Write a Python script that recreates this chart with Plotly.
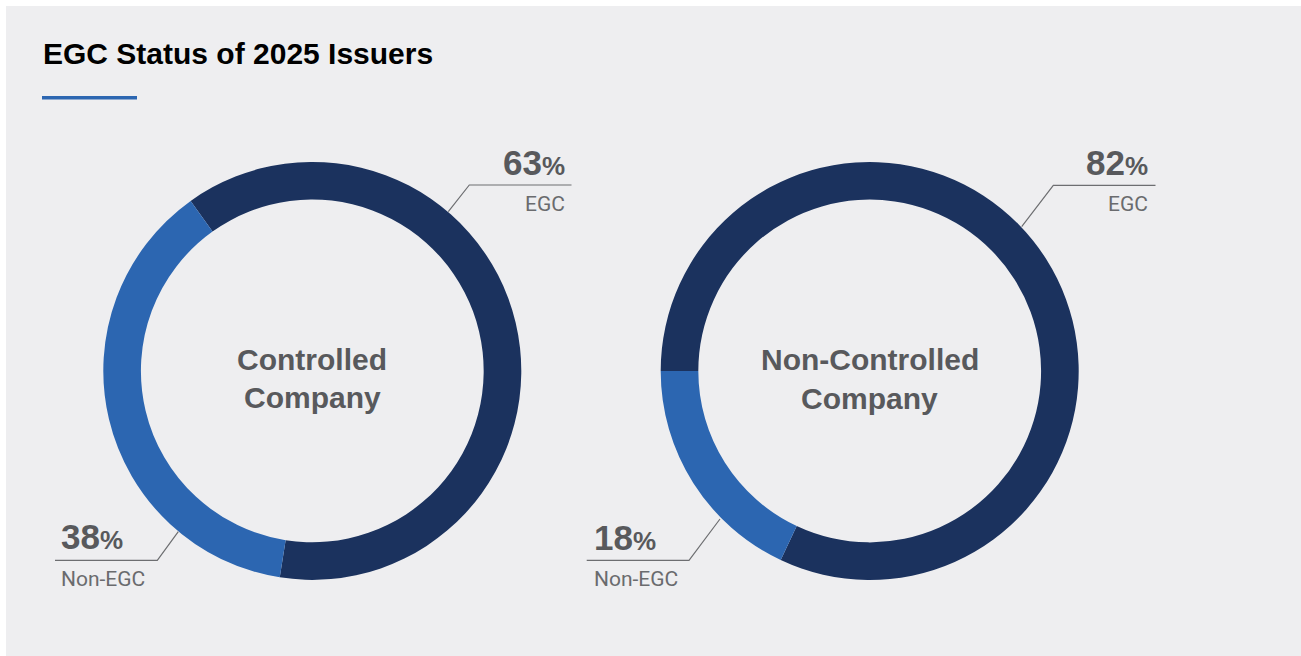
import plotly.graph_objects as go

W, H = 1301, 656

# Chart data
title_text = "EGC Status of 2025 Issuers"
groups = [["Controlled", "Company"], ["Non-Controlled", "Company"]]
status_labels = ["EGC", "Non-EGC"]
controlled = [63, 38]
non_controlled = [82, 18]

NAVY = "#1b325e"
BLUE = "#2c66b1"
PANEL = "#eeeef0"
PCT_GREY = "#58595c"
LBL_GREY = "#6a6b6e"
LINE_GREY = "#6d6e71"
HEAD_FONT = "'Liberation Sans', Arial, sans-serif"
FONT = "Roboto, 'Liberation Sans', Arial, sans-serif"


def px(x):
    return x / W


def py(y):
    return 1 - y / H


def donut_domain(cx, cy, r):
    return dict(x=[px(cx - r), px(cx + r)], y=[py(cy + r), py(cy - r)])


R = 209
centers = [(312.3, 370.9), (869.7, 371.0)]
rotations = [-35.6, -90]
series = [controlled, non_controlled]

fig = go.Figure()
for (cx, cy), rot, vals in zip(centers, rotations, series):
    fig.add_trace(go.Pie(
        labels=status_labels,
        values=vals,
        hole=0.82,
        sort=False,
        direction="clockwise",
        rotation=rot,
        textinfo="none",
        hoverinfo="label+value",
        marker=dict(colors=[NAVY, BLUE], line=dict(width=0)),
        domain=donut_domain(cx, cy, R),
        showlegend=False,
    ))

shapes = [
    # white strips along the top and left edges of the panel
    dict(type="rect", xref="paper", yref="paper", x0=0, x1=1, y0=py(6), y1=1,
         fillcolor="#ffffff", line=dict(width=0), layer="below"),
    dict(type="rect", xref="paper", yref="paper", x0=0, x1=px(6), y0=0, y1=1,
         fillcolor="#ffffff", line=dict(width=0), layer="below"),
    # accent bar under the title
    dict(type="rect", xref="paper", yref="paper", x0=px(42), x1=px(137),
         y0=py(99.5), y1=py(96), fillcolor=BLUE, line=dict(width=0)),
]

# Leader lines: (start on ring, elbow, end of horizontal rule)
leaders = [
    [(448.3, 211.7), (469.3, 185.0), (571.5, 185.0)],
    [(178.3, 531.7), (157.3, 560.3), (55.0, 560.3)],
    [(1021.7, 226.7), (1053.3, 185.3), (1155.5, 185.3)],
    [(720.0, 519.0), (689.0, 560.3), (586.7, 560.3)],
]
for pts in leaders:
    path = "M {} {} L {} {} L {} {}".format(
        px(pts[0][0]), py(pts[0][1]), px(pts[1][0]), py(pts[1][1]),
        px(pts[2][0]), py(pts[2][1]))
    shapes.append(dict(type="path", xref="paper", yref="paper", path=path,
                       line=dict(color=LINE_GREY, width=1.2)))

annotations = [
    dict(text="<b>" + title_text + "</b>", x=px(41), y=py(54), xanchor="left",
         yanchor="middle", showarrow=False, xref="paper", yref="paper",
         font=dict(family=HEAD_FONT, size=30, color="#000000")),
]

# centre captions, one annotation per line
line_offsets = [-11.5, 27.0]
for (cx, cy), lines in zip(centers, groups):
    for dy, line in zip(line_offsets, lines):
        annotations.append(dict(
            text="<b>" + line + "</b>", x=px(cx), y=py(cy + dy), xanchor="center",
            yanchor="middle", showarrow=False, xref="paper", yref="paper",
            font=dict(family=HEAD_FONT, size=30, color=PCT_GREY)))


def pct_text(v):
    return "<b>{}<span style='font-size:26px'>%</span></b>".format(v)


# value callouts: (value, label, x, anchor, y of value, y of label)
callouts = [
    (controlled[0], status_labels[0], 567, "right", 162.5, 203.7),
    (controlled[1], status_labels[1], 59, "left", 536.7, 579.0),
    (non_controlled[0], status_labels[0], 1150, "right", 162.5, 204.0),
    (non_controlled[1], status_labels[1], 592, "left", 537.0, 579.0),
]
for v, lab, x, anc, yv, yl in callouts:
    annotations.append(dict(
        text=pct_text(v), x=px(x), y=py(yv), xanchor=anc, yanchor="middle",
        showarrow=False, xref="paper", yref="paper",
        font=dict(family=HEAD_FONT, size=35, color=PCT_GREY)))
    annotations.append(dict(
        text=lab, x=px(x), y=py(yl), xanchor=anc, yanchor="middle",
        showarrow=False, xref="paper", yref="paper",
        font=dict(family=FONT, size=21, color=LBL_GREY)))

fig.update_layout(
    width=W, height=H,
    margin=dict(l=0, r=0, t=0, b=0),
    paper_bgcolor=PANEL,
    plot_bgcolor=PANEL,
    shapes=shapes,
    annotations=annotations,
    showlegend=False,
)

fig.write_html("out.html", config={"displayModeBar": False})
